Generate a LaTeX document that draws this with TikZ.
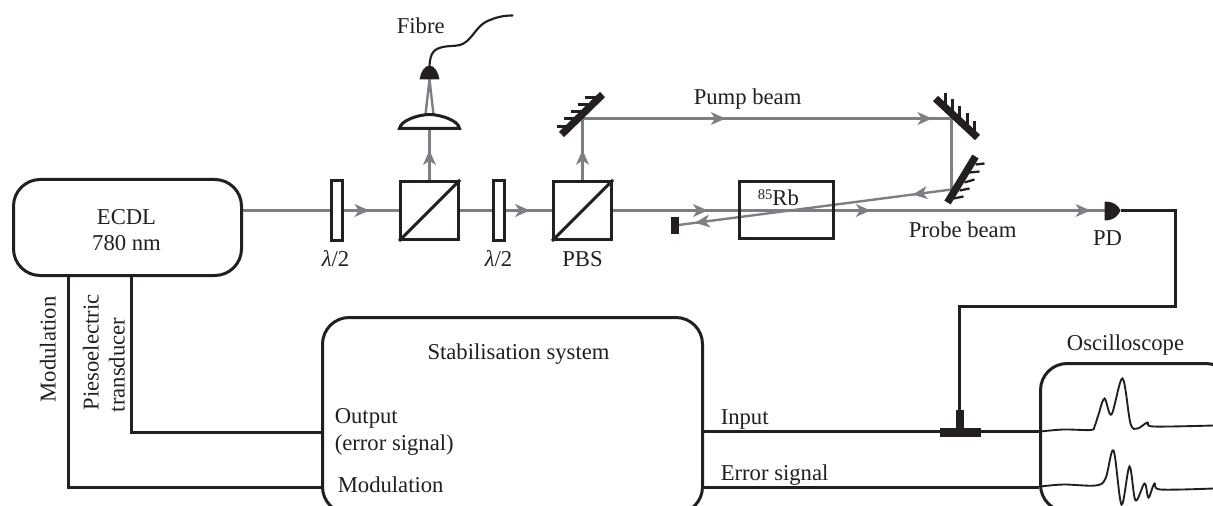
\documentclass[tikz,border=0pt]{standalone}
\usepackage{fontspec}
\setmainfont{Liberation Serif}
\usetikzlibrary{arrows.meta,decorations.markings}
\definecolor{beamgrey}{HTML}{7D7F82}
\definecolor{ink}{HTML}{231F20}
\newcommand{\beamarrow}{\arrow[beamgrey]{Stealth[length=11pt,width=9.5pt,inset=3pt]}}
\tikzset{
  x=0.75pt,y=-0.75pt,
  wire/.style={draw=ink,line width=2.25pt,line join=miter},
  beam/.style={draw=beamgrey,line width=2.25pt},
  thinbeam/.style={draw=beamgrey,line width=1.8pt},
  marked/.style={postaction={decorate},decoration={markings,
     mark=at position #1 with {\beamarrow}}},
  twomarked/.style 2 args={postaction={decorate},decoration={markings,
     mark=at position #1 with {\beamarrow},
     mark=at position #2 with {\beamarrow}}},
  roundbox/.style={draw=ink,line width=2.25pt,rounded corners=20pt,inner sep=0pt,fill=white,
     minimum width=#1},
  cube/.style={draw=ink,line width=2.25pt,fill=white,minimum width=43.5pt,minimum height=43.5pt,inner sep=0pt},
  plate/.style={draw=ink,line width=2.25pt,fill=white,minimum width=8.25pt,minimum height=45pt,inner sep=0pt},
  cell/.style={draw=ink,line width=2.25pt,minimum width=70.5pt,minimum height=42.75pt,inner sep=0pt},
  mirrorbar/.style={draw=ink,line width=5.5pt},
  mirrortick/.style={draw=ink,line width=1.7pt},
  txt/.style={font=\fontsize{17}{20}\selectfont,text=ink,inner sep=0pt,anchor=base},
  txtl/.style={txt,anchor=base west},
  vtxt/.style={txt,rotate=90,anchor=base west},
  trace/.style={draw=ink,line width=1.4pt},
}
\begin{document}
\begin{tikzpicture}
\clip (0,0) rectangle (1213,506);
\begin{scope}[shift={(0.5,0.5)}]
% named optical elements
\node[roundbox=171pt,minimum height=72pt] (ecdl) at (127,227) {};
\node[roundbox=285pt,minimum height=147pt] (stab) at (512,415) {};
\node[roundbox=144pt,minimum height=111pt] (osc) at (1136,437) {};
\node[plate] (wp1) at (336.5,210) {};
\node[cube] (bs1) at (429,210) {};
\node[plate] (wp2) at (498.5,210) {};
\node[cube] (pbs) at (582,210) {};
\coordinate (lensbot) at (429,128);
\coordinate (lenstop) at (429,114);
\coordinate (headbot) at (429,79);
\coordinate (headtop) at (429,65);
\coordinate (mir1) at (582,118);
\coordinate (mir2) at (951,118);
\coordinate (mir3) at (951,189);
\coordinate (block) at (678,224.5);
\coordinate (pdin) at (1104,210);
\coordinate (pdout) at (1120,210);
\coordinate (tjoin) at (959,431);
\coordinate (ecdlM) at (68,275);
\coordinate (ecdlP) at (131,275);
% beams
\path[beam,marked=0.81] (ecdl.east |- bs1.west) -- (bs1.west);
\path[beam,marked=0.76] (bs1.east) -- (pbs.west);
\path[beam,marked=0.58] (bs1.north) -- (lensbot);
\path[beam,marked=0.49] (pbs.north) -- (mir1);
\path[beam,twomarked={0.388}{0.948}] (mir1) -- (mir2);
\path[beam] (mir2) -- (mir3);
\path[thinbeam,twomarked={0.143}{0.94}] (mir3) -- (block);
\path[beam,marked=0.75] (pbs.east) -- (739,210);
\path[beam] (739,210) -- (833,210);
\path[beam,twomarked={0.137}{0.948}] (833,210) -- (pdin);
\path[thinbeam] (425,114) -- (headbot) -- (433,114);
% redraw elements above beams
\node[plate] at (wp1) {};
\node[cube] at (bs1) {};
\node[plate] at (wp2) {};
\node[cube] at (pbs) {};
\draw[wire] (bs1.south west) -- (bs1.north east);
\draw[wire] (pbs.south west) -- (pbs.north east);
\node[cell] (rb) at (786,209.5) {};
% lens, fibre head and fibre
\draw[wire,fill=white] (399,128) .. controls (400,120) and (418,114) .. (lenstop) .. controls (440,114) and (458,120) .. (459,128) -- cycle;
\fill[ink] (419,79) .. controls (420,72) and (424,65) .. (headtop) .. controls (434,65) and (438,72) .. (439,79) -- cycle;
\draw[draw=ink,line width=1.6pt,line cap=round] (headtop) .. controls (430,52) and (433,48) .. (445,46)
   .. controls (452,45) and (458,46) .. (463,43) .. controls (472,38) and (476,26) .. (486,21)
   .. controls (495,17) and (502,15) .. (512,15);
% mirrors
\draw[mirrorbar] (561,134) -- (602,94);
\foreach \a/\b/\c in {556/566/126,563/574/118,570/580/111,577/587/104,584/595/97}
  \draw[mirrortick] (\a,\c) -- (\b,\c);
\draw[mirrorbar] (935,98) -- (977,137);
\foreach \a/\b/\c in {945/93/105,952/99/111,959/106/118,967/113/125,974/121/132}
  \draw[mirrortick] (\a,\b) -- (\a,\c);
\draw[mirrorbar] (947,202) -- (975,156);
\draw[mirrortick] (953,198) -- (963,196);
\draw[mirrortick] (959,190) -- (969,188);
\draw[mirrortick] (964,182) -- (974,179);
\draw[mirrortick] (969,172) -- (979,171);
\draw[mirrortick] (975,164) -- (984,163);
% beam block
\fill[ink] (670,216) rectangle (678,233);
% photodiode
\fill[ink] (1104,201) .. controls (1113,201) and (1118,205) .. (pdout) .. controls (1118,215) and (1113,220) .. (1104,220) -- cycle;
% electrical wires
\draw[wire] (pdout) -- (1175,210) |- (959,306) -- (tjoin);
\draw[wire] (stab.east |- tjoin) -- (osc.west |- tjoin);
\draw[wire] (stab.east |- 0,487) -- (osc.west |- 0,487);
\draw[wire] (ecdlP) |- (stab.west |- 0,432);
\draw[wire] (ecdlM) |- (stab.west |- 0,487);
\fill[ink] (955.5,409) rectangle (963.5,428);
\fill[ink] (939,427) rectangle (980,436);
% oscilloscope traces
\draw[trace] plot[smooth,tension=0.55] coordinates {(1040,431) (1063,429) (1090,429.5) (1094,426) (1098,414) (1104,398) (1111,414) (1122,378) (1130,423) (1137,428) (1147,422) (1153,426) (1213,425)};
\draw[trace] plot[smooth,tension=0.55] coordinates {(1040,486) (1063,484) (1095,485) (1105,478) (1113,450) (1121,504) (1129,466) (1135,500) (1144,483) (1148,497) (1154,483) (1160,489) (1213,488)};
% labels
\node[txt] (t1) at (126,224) {ECDL};
\node[txt] (t2) at (126,250) {780 nm};
\node[txtl] (t3) at (396,33) {Fibre};
\node[txt] (t4) at (335,266) {\textit{λ}/2};
\node[txt] (t5) at (498,266) {\textit{λ}/2};
\node[txt] (t6) at (582,266) {PBS};
\node[txtl] (t7) at (693,104) {Pump beam};
\node[txtl] (t8) at (757,205) {\raisebox{0.55ex}{\fontsize{11}{13}\selectfont 85}Rb};
\node[txtl] (t9) at (908,237) {Probe beam};
\node[txt] (t10) at (1107,245) {PD};
\node[txt] (t11) at (518,359) {Stabilisation system};
\node[txtl] (t12) at (334,423) {Output};
\node[txtl] (t13) at (334,450) {(error signal)};
\node[txtl] (t14) at (337,492) {Modulation};
\node[txtl] (t15) at (720,424) {Input};
\node[txtl] (t16) at (720,480) {Error signal};
\node[txt] (t17) at (1125,350) {Oscilloscope};
\node[vtxt] (t18) at (55,402) {Modulation};
\node[vtxt] (t19) at (98,410) {Piesoelectric};
\node[vtxt] (t20) at (124,412) {transducer};
\end{scope}
\end{tikzpicture}
\end{document}
